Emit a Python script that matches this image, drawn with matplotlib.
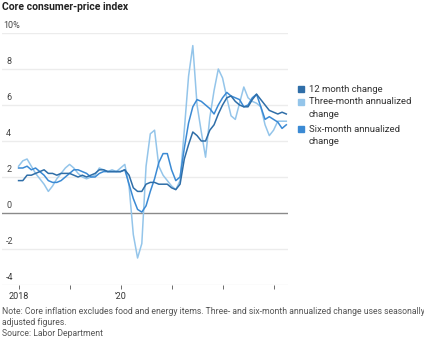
import numpy as np
import matplotlib.pyplot as plt
from matplotlib.patches import Rectangle
from matplotlib.transforms import blended_transform_factory

# monthly, Jan 2018 - Apr 2023
twelve_month = [1.8, 1.8, 2.1, 2.1, 2.2, 2.3, 2.4, 2.2, 2.2, 2.1, 2.2, 2.2,
                2.2, 2.1, 2.0, 2.1, 2.0, 2.1, 2.2, 2.4, 2.4, 2.3, 2.3, 2.3,
                2.3, 2.4, 2.1, 1.4, 1.2, 1.2, 1.6, 1.7, 1.7, 1.6, 1.6, 1.6,
                1.4, 1.3, 1.6, 3.0, 3.8, 4.5, 4.3, 4.0, 4.0, 4.6, 4.9, 5.5,
                6.0, 6.4, 6.5, 6.2, 6.0, 5.9, 5.9, 6.3, 6.6, 6.3, 6.0, 5.7,
                5.6, 5.5, 5.6, 5.5]
three_month = [2.6, 2.9, 3.0, 2.6, 2.2, 1.9, 1.6, 1.2, 1.5, 1.9, 2.2, 2.5,
               2.7, 2.5, 2.2, 2.0, 1.9, 2.0, 2.1, 2.5, 2.4, 2.3, 2.4, 2.3,
               2.5, 2.7, 1.5, -1.2, -2.5, -1.7, 2.6, 4.4, 4.6, 2.6, 2.1, 1.8,
               1.5, 1.3, 1.8, 4.6, 7.6, 9.3, 6.0, 4.5, 3.1, 5.3, 6.8, 8.0,
               7.5, 6.4, 5.4, 5.2, 6.1, 7.0, 6.4, 6.2, 6.1, 5.9, 4.9, 4.3,
               4.6, 5.1, 5.1, 5.1]
six_month = [2.5, 2.5, 2.6, 2.4, 2.5, 2.3, 2.1, 1.8, 1.7, 1.7, 1.8, 2.0,
             2.2, 2.4, 2.4, 2.3, 2.2, 2.0, 2.0, 2.2, 2.3, 2.3, 2.3, 2.3,
             2.3, 2.4, 1.6, 0.8, 0.2, 0.05, 0.4, 1.2, 1.9, 2.8, 3.3, 3.3,
             2.4, 1.8, 2.0, 3.6, 5.0, 5.9, 6.3, 6.2, 6.0, 5.8, 5.5, 6.0,
             6.4, 6.7, 6.5, 6.4, 6.3, 5.9, 6.0, 6.4, 6.6, 5.9, 5.2, 5.35,
             5.2, 5.05, 4.7, 4.9]
months = np.arange(len(twelve_month))

year_ticks = [0, 12, 24, 36, 48, 60]
year_labels = ['2018', '', "'20", '', '', '']
y_ticks = [10, 8, 6, 4, 2, 0, -2, -4]
y_labels = ['10%', '8', '6', '4', '2', '0', '-2', '-4']

dark = '#2f6ea8'
light = '#94c5ea'
mid = '#3b8ad4'

plt.rcParams['font.family'] = ['Roboto', 'DejaVu Sans']

fig = plt.figure(figsize=(4.24, 3.41), dpi=100)
ax = fig.add_axes([2 / 424, 1 - 285 / 341, 286 / 424, 252 / 341])

for y in y_ticks:
    if y == 0:
        ax.axhline(y, color='#8a8a8a', lw=1.0, zorder=1)
    else:
        ax.axhline(y, color='#ececec', lw=1.0, zorder=0)

ax.plot(months, three_month, color=light, lw=1.1, zorder=2)
ax.plot(months, six_month, color=mid, lw=1.1, zorder=3)
ax.plot(months, twelve_month, color=dark, lw=1.1, zorder=4)

ax.set_xlim(-3.9, 63.4)
ax.set_ylim(-4, 10)
for s in ax.spines.values():
    s.set_visible(False)
ax.set_yticks([])
ax.set_xticks(year_ticks)
ax.set_xticklabels(year_labels)
ax.tick_params(axis='x', length=3, width=0.6, color='#555555', pad=2,
               labelsize=6.5, labelcolor='#333333')

tr = blended_transform_factory(ax.transAxes, ax.transData)
for y, lab in zip(y_ticks, y_labels):
    ax.text(0.005 if lab == '10%' else 0.015, y + 0.15, lab, transform=tr,
            fontsize=6.5, color='#444444', va='bottom', ha='left')

fig.text(2 / 424, 1 - 7 / 341, 'Core consumer-price index', fontsize=7.5,
         fontweight='bold', color='#222222', va='center', ha='left')

# legend, drawn by hand to get the wrapped line spacing
legend_items = [(dark, ['12 month change'], 89),
                (light, ['Three-month annualized', 'change'], 102),
                (mid, ['Six-month annualized', 'change'], 129)]
for color, lines, ypix in legend_items:
    fig.patches.append(Rectangle((298 / 424, 1 - (ypix + 3) / 341), 6 / 424, 6 / 341,
                                 transform=fig.transFigure, color=color))
    for i, line in enumerate(lines):
        fig.text(309 / 424, 1 - (ypix + i * 12.5) / 341, line, fontsize=6.8,
                 color='#333333', va='center', ha='left')

notes = ['Note: Core inflation excludes food and energy items. Three- and six-month annualized change uses seasonally',
         'adjusted figures.',
         'Source: Labor Department']
for i, line in enumerate(notes):
    fig.text(2 / 424, 1 - (311 + i * 11.5) / 341, line, fontsize=6.2,
             color='#555555', va='center', ha='left')

fig.savefig('out.png', dpi=100)
